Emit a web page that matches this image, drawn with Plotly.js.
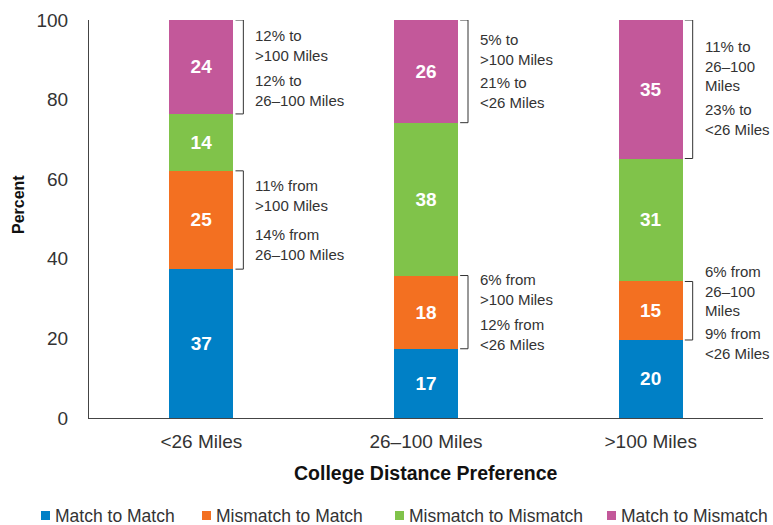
<!DOCTYPE html>
<html>
<head>
<meta charset="utf-8">
<script src="https://cdn.plot.ly/plotly-3.0.1.min.js"></script>
<style>html,body{margin:0;padding:0;background:#fff;}#chart{width:773px;height:525px;}</style>
</head>
<body>
<div id="chart"></div>
<script>
const categories = ["<26 Miles", "26\u2013100 Miles", ">100 Miles"];
const matchToMatch = [37.4, 17.4, 19.6];
const mismatchToMatch = [24.7, 18.4, 14.7];
const mismatchToMismatch = [14.3, 38.4, 30.9];
const matchToMismatch = [23.6, 25.8, 34.8];
const seriesNames = ["Match to Match", "Mismatch to Match", "Mismatch to Mismatch", "Match to Mismatch"];
const seriesColors = ["#0080C6", "#F37021", "#80C34A", "#C3589A"];

// bracket notes: category index, series index of bracketed segment, note texts with y positions
const notes = [
  {cat: 0, seg: 3, texts: [["12% to<br>>100 Miles", 93.7], ["12% to<br>26\u2013100 Miles", 82.4]]},
  {cat: 0, seg: 1, texts: [["11% from<br>>100 Miles", 56.0], ["14% from<br>26\u2013100 Miles", 43.5]]},
  {cat: 1, seg: 3, texts: [["5% to<br>>100 Miles", 92.5], ["21% to<br><26 Miles", 81.7]]},
  {cat: 1, seg: 1, texts: [["6% from<br>>100 Miles", 32.4], ["12% from<br><26 Miles", 20.9]]},
  {cat: 2, seg: 3, texts: [["11% to<br>26\u2013100<br>Miles", 88.4], ["23% to<br><26 Miles", 74.9]]},
  {cat: 2, seg: 1, texts: [["6% from<br>26\u2013100<br>Miles", 31.9], ["9% from<br><26 Miles", 18.8]]}
];

const allSeries = [matchToMatch, mismatchToMatch, mismatchToMismatch, matchToMismatch];
const FONT = "Liberation Sans, Arial, sans-serif";
const TXT = "#333333";

const W = 773, H = 525;
const M = {l: 89, r: 10, t: 20, b: 107};
const PW = W - M.l - M.r, PH = H - M.t - M.b;
const px2x = p => (p - M.l) / PW;
const px2y = p => (H - M.b - p) / PH;

const traces = allSeries.map((vals, i) => ({
  type: "bar",
  name: seriesNames[i],
  x: [0, 1, 2],
  y: vals,
  width: 0.285,
  marker: {color: seriesColors[i], line: {width: 0}},
  texttemplate: "%{y:.0f}",
  textposition: "inside",
  insidetextanchor: "middle",
  textfont: {color: "#ffffff", size: 19, family: FONT, weight: "bold"},
  hoverinfo: "skip",
  showlegend: false,
  cliponaxis: false
}));

const shapes = [];
const annotations = [];
notes.forEach(n => {
  let lo = 0;
  for (let s = 0; s < n.seg; s++) lo += allSeries[s][n.cat];
  let hi = Math.min(100, lo + allSeries[n.seg][n.cat]);
  const xv = n.cat + 0.187, xt = n.cat + 0.152;
  const lc = {color: "#333333", width: 1};
  shapes.push({type: "line", xref: "x", yref: "y", x0: xt, x1: xv, y0: hi, y1: hi, line: lc});
  shapes.push({type: "line", xref: "x", yref: "y", x0: xv, x1: xv, y0: hi, y1: lo, line: lc});
  shapes.push({type: "line", xref: "x", yref: "y", x0: xt, x1: xv, y0: lo, y1: lo, line: lc});
  n.texts.forEach(t => {
    annotations.push({
      xref: "x", yref: "y", x: n.cat + 0.232, y: t[1],
      xanchor: "left", yanchor: "middle", align: "left",
      text: t[0], showarrow: false,
      font: {size: 15, color: TXT, family: FONT}
    });
  });
});

// axis titles
annotations.push({
  xref: "paper", yref: "paper", x: 0.5, y: px2y(473),
  xanchor: "center", yanchor: "middle", showarrow: false,
  text: "<b>College Distance Preference</b>",
  font: {size: 19.5, color: "#111111", family: FONT}
});
annotations.push({
  xref: "paper", yref: "paper", x: px2x(19), y: px2y(205),
  xanchor: "center", yanchor: "middle", showarrow: false, textangle: -90,
  text: "<b>Percent</b>",
  font: {size: 16, color: "#111111", family: FONT}
});

// custom legend
const legendLeft = [41, 202, 395, 607];
const legendY = 516;
seriesNames.forEach((name, i) => {
  const x0 = legendLeft[i];
  shapes.push({
    type: "rect", xref: "paper", yref: "paper",
    x0: px2x(x0), x1: px2x(x0 + 9), y0: px2y(legendY - 5), y1: px2y(legendY + 4),
    fillcolor: seriesColors[i], line: {width: 0}
  });
  annotations.push({
    xref: "paper", yref: "paper", x: px2x(x0 + 12), y: px2y(legendY),
    xanchor: "left", yanchor: "middle", showarrow: false,
    text: name, font: {size: 17.5, color: TXT, family: FONT}
  });
});

const layout = {
  width: W, height: H,
  margin: {l: M.l, r: M.r, t: M.t, b: M.b, autoexpand: false},
  paper_bgcolor: "#ffffff", plot_bgcolor: "#ffffff",
  barmode: "stack",
  font: {family: FONT, color: TXT},
  showlegend: false,
  xaxis: {
    range: [-0.5, 2.5],
    tickvals: [0, 1, 2], ticktext: categories,
    showline: true, linecolor: "#444444", linewidth: 1,
    ticks: "", showgrid: false, zeroline: false,
    tickfont: {size: 19, color: TXT, family: FONT},
    ticklabelstandoff: 6
  },
  yaxis: {
    range: [0, 100], tickvals: [0, 20, 40, 60, 80, 100],
    showline: true, linecolor: "#444444", linewidth: 1,
    ticks: "", showgrid: false, zeroline: false,
    tickfont: {size: 19, color: TXT, family: FONT},
    ticklabelstandoff: 16
  },
  shapes: shapes,
  annotations: annotations
};

Plotly.newPlot("chart", traces, layout, {displayModeBar: false, staticPlot: true});
</script>
</body>
</html>
